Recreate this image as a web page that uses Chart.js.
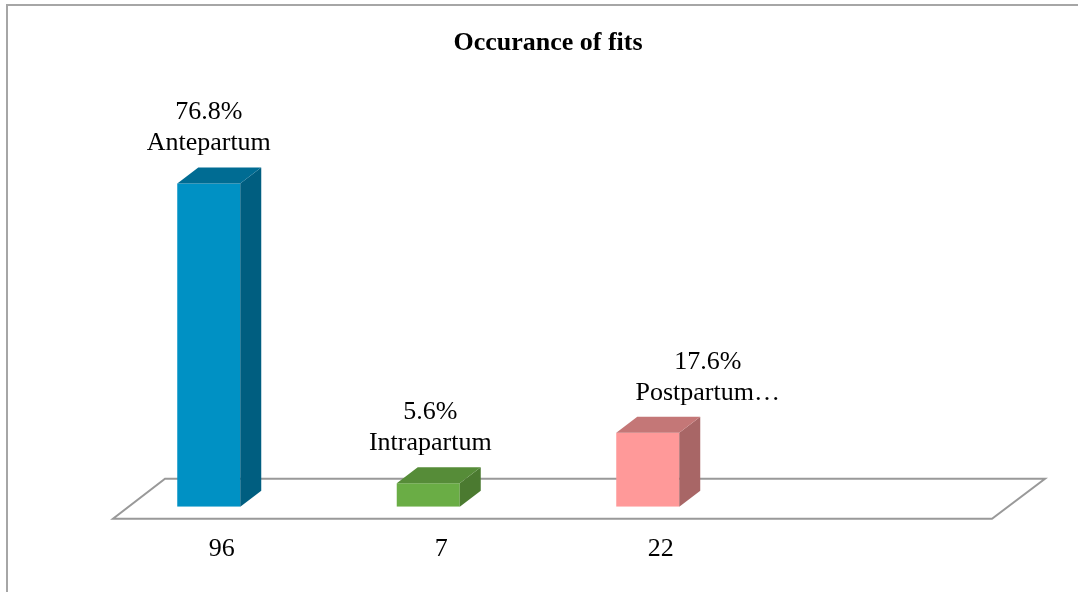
<!DOCTYPE html>
<html>
<head>
<meta charset="utf-8">
<script src="https://cdn.jsdelivr.net/npm/chart.js@4/dist/chart.umd.min.js"></script>
<style>
  html, body { margin: 0; padding: 0; background: #fff; overflow: hidden; }
  .wrap { position: relative; width: 1078px; height: 592px; }
  .frame { position: absolute; left: 6px; top: 4px; width: 1200px; height: 700px; border: 2px solid #a6a6a6; box-sizing: border-box; }
  canvas { position: absolute; left: 0; top: 0; }
</style>
</head>
<body>
<div class="wrap">
  <div class="frame"></div>
  <canvas id="myChart" width="1078" height="592"></canvas>
</div>
<script>
const chartTitle = 'Occurance of fits';
const categories = ['96', '7', '22', ''];
const counts = [96, 7, 22, null];
const percents = ['76.8%', '5.6%', '17.6%'];
const phases = ['Antepartum', 'Intrapartum', 'Postpartum…'];

// colours per bar: front, side, top
const fronts = ['#0091c4', '#6aad45', '#ff9999'];
const sides = ['#005e80', '#4b7a30', '#a86666'];
const tops = ['#006c93', '#568c38', '#c47777'];

const depthX = 21, depthY = -16;
const labelShift = [0, 2, 60];
const serif = '"Liberation Serif", "Times New Roman", serif';

const floorPlugin = {
  id: 'floor',
  beforeDatasetsDraw(chart) {
    const a = chart.chartArea;
    const c = chart.ctx;
    c.save();
    c.beginPath();
    c.moveTo(a.left + 14, a.bottom + 12);
    c.lineTo(a.right + 15, a.bottom + 12);
    c.lineTo(a.right + 68, a.bottom - 28);
    c.lineTo(a.left + 66, a.bottom - 28);
    c.closePath();
    c.fillStyle = '#ffffff';
    c.fill();
    c.strokeStyle = '#999999';
    c.lineWidth = 2;
    c.stroke();
    c.restore();
  }
};

const cubePlugin = {
  id: 'cube',
  afterDatasetsDraw(chart) {
    const c = chart.ctx;
    const meta = chart.getDatasetMeta(0);
    c.save();
    meta.data.forEach((bar, i) => {
      if (counts[i] == null) return;
      const l = bar.x - bar.width / 2, r = bar.x + bar.width / 2;
      const t = bar.y, b = bar.base;
      // side
      c.beginPath();
      c.moveTo(r, t);
      c.lineTo(r + depthX, t + depthY);
      c.lineTo(r + depthX, b + depthY);
      c.lineTo(r, b);
      c.closePath();
      c.fillStyle = sides[i];
      c.fill();
      // top
      c.beginPath();
      c.moveTo(l, t);
      c.lineTo(l + depthX, t + depthY);
      c.lineTo(r + depthX, t + depthY);
      c.lineTo(r, t);
      c.closePath();
      c.fillStyle = tops[i];
      c.fill();
      // labels
      c.fillStyle = '#000';
      c.font = '26px ' + serif;
      c.textAlign = 'center';
      c.textBaseline = 'middle';
      const x = bar.x + labelShift[i];
      c.fillText(percents[i], x, t - 71);
      c.fillText(phases[i], x, t - 40);
    });
    // title, a bit right of the plot centre like the original
    c.font = 'bold 26px ' + serif;
    c.textAlign = 'center';
    c.textBaseline = 'middle';
    c.fillStyle = '#000';
    c.fillText(chartTitle, 548, 43);
    c.restore();
  }
};

const ctx = document.getElementById('myChart').getContext('2d');
let myChart = new Chart(ctx, {
  type: 'bar',
  data: {
    labels: categories,
    datasets: [{
      data: counts,
      backgroundColor: fronts,
      borderWidth: 0,
      barPercentage: 0.287,
      categoryPercentage: 1
    }]
  },
  options: {
    responsive: false,
    animation: false,
    layout: { padding: { left: 99, right: 101, top: 170, bottom: 0 } },
    scales: {
      x: {
        grid: { display: false, drawTicks: false },
        border: { display: false },
        ticks: {
          color: '#000',
          padding: 27,
          labelOffset: 13,
          font: { family: serif, size: 26 }
        }
      },
      y: {
        display: false,
        min: 0,
        max: 100
      }
    },
    plugins: {
      legend: { display: false },
      tooltip: { enabled: false },
      title: { display: false }
    }
  },
  plugins: [floorPlugin, cubePlugin]
});
</script>
</body>
</html>
